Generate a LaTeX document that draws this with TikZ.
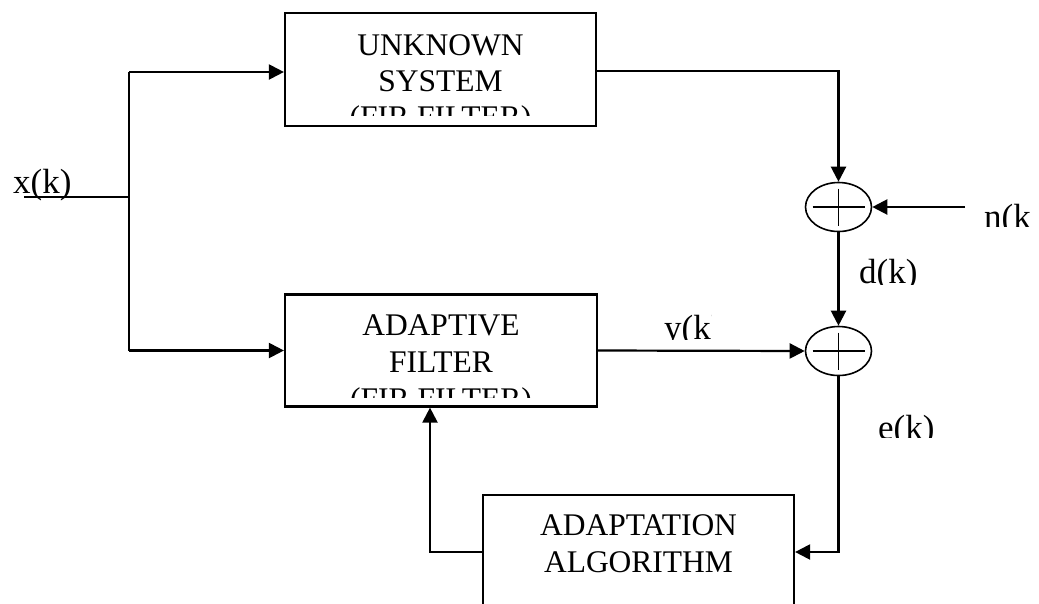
\documentclass[tikz,border=0pt]{standalone}
\usepackage{fontspec}
\setmainfont{Liberation Serif}
\usetikzlibrary{arrows.meta,shapes.geometric}
\begin{document}
\begin{tikzpicture}[x=1pt,y=-1pt,
  line width=2.2pt,
  >={Triangle[length=15pt,width=15pt]},
  blk/.style={draw, rectangle, inner sep=0pt},
  sumnode/.style={draw, ellipse, inner sep=0pt, minimum width=66pt, minimum height=49pt, line width=1.6pt},
  boxtxt/.style={inner sep=0pt, anchor=base, font=\fontsize{31.5}{36}\selectfont},
  lbl/.style={inner sep=0pt, anchor=base west, font=\fontsize{35}{40}\selectfont},
  crossline/.style={line width=1.6pt}]
\useasboundingbox (0,0) rectangle (1039,603);
\fill[white] (0,0) rectangle (1039,603);
\clip (0,0) rectangle (1039,603);

% blocks
\node[blk, minimum width=311pt, minimum height=113pt] (unk) at (440.5,69.5) {};
\node[blk, minimum width=312pt, minimum height=112pt] (adf) at (441,350.5) {};
\node[blk, minimum width=311pt, minimum height=140pt] (alg) at (638.5,565) {};

% summing junctions
\node[sumnode] (s1) at (838.5,207) {};
\node[sumnode] (s2) at (838.5,351) {};
\draw[crossline] ([xshift=-26pt]s1.center) -- ([xshift=26pt]s1.center);
\draw[crossline] ([yshift=18.5pt]s1.center) -- ([yshift=-18.5pt]s1.center);
\draw[crossline] ([xshift=-26pt]s2.center) -- ([xshift=26pt]s2.center);
\draw[crossline] ([yshift=18.5pt]s2.center) -- ([yshift=-18.5pt]s2.center);

% block texts (clipped like the original text boxes)
\begin{scope}
\clip (285,13) rectangle (596,115);
\node[boxtxt] (unkA) at (440.5,55) {UNKNOWN};
\node[boxtxt] (unkB) at (440.5,91) {SYSTEM};
\node[boxtxt] (unkC) at (440.5,127) {(FIR FILTER)};
\end{scope}
\begin{scope}
\clip (285,294) rectangle (597,397);
\node[boxtxt] (adfA) at (441,335) {ADAPTIVE};
\node[boxtxt] (adfB) at (441,372) {FILTER};
\node[boxtxt] (adfC) at (441,409) {(FIR FILTER)};
\end{scope}
\node[boxtxt] (algA) at (638.5,535) {ADAPTATION};
\node[boxtxt] (algB) at (638.5,572) {ALGORITHM};

% signal labels
\node[lbl] (xl) at (12,193) {x(k)};
\begin{scope}
\clip (975,150) rectangle (1029,226);
\node[lbl] (nl) at (983,228) {n(k)};
\end{scope}
\begin{scope}
\clip (850,240) rectangle (935,284);
\node[lbl] (dl) at (858,283) {d(k)};
\end{scope}
\begin{scope}
\clip (655,300) rectangle (711,339);
\node[lbl] (yl) at (663,339) {y(k)};
\end{scope}
\begin{scope}
\clip (870,400) rectangle (950,437);
\node[lbl] (el) at (877,439) {e(k)};
\end{scope}

% connectors
\coordinate (xin) at (24,197);
\coordinate (jm) at (129,197);
\coordinate (jt) at (129,72);
\coordinate (jb) at (129,350.5);
\coordinate (tr) at (838.5,71);
\coordinate (nin) at (965,207);
\coordinate (br) at (838.5,552);
\coordinate (fb) at (430,552);

\draw (xin) -- (jm);
\draw (jt) -- (jb);
\draw[->] (jt) -- (unk.west |- jt);
\draw[->] (jb) -- (adf.west);
\draw[->] (unk.east |- tr) -- (tr) -- (s1.north);
\draw[->] (nin) -- (s1.east);
\draw[->] (s1.south) -- (s2.north);
\draw[->] (adf.east) -- (s2.west);
\draw[->] (s2.south) -- (br) -- (alg.east |- br);
\draw[->] (alg.west |- fb) -- (fb) -- (adf.south -| fb);
\end{tikzpicture}
\end{document}
